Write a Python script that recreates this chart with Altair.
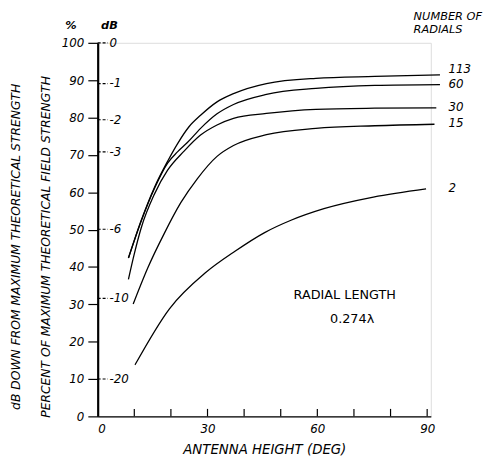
import altair as alt
import pandas as pd

# ---- data ----
series_names = ["113", "60", "30", "15", "2"]
x_113 = [8.4, 11.9, 15.5, 19.1, 22.0, 25.0, 28.1, 32.6, 37.1, 46.1, 59.6, 75.7, 93.5]
y_113 = [42.4, 52.5, 61.3, 68.3, 73.3, 77.6, 80.6, 84.2, 86.4, 89.1, 90.5, 91.0, 91.4]
x_60 = [8.4, 11.9, 15.5, 19.1, 21.8, 24.5, 28.1, 32.6, 37.1, 46.1, 59.6, 75.7, 93.5]
y_60 = [42.4, 52.3, 61.0, 67.8, 70.8, 73.3, 77.1, 81.0, 83.5, 86.2, 87.8, 88.6, 88.8]
x_30 = [8.4, 10.0, 11.9, 15.5, 19.1, 23.6, 28.1, 32.6, 37.1, 46.1, 59.6, 75.7, 92.5]
y_30 = [36.7, 43.5, 50.5, 59.5, 65.9, 71.0, 75.3, 78.0, 79.8, 81.1, 82.2, 82.5, 82.6]
x_15 = [9.7, 13.7, 18.2, 22.7, 27.2, 32.6, 37.1, 46.1, 59.6, 75.7, 92.0]
y_15 = [30.1, 39.8, 49.0, 57.2, 63.6, 69.6, 72.5, 75.4, 77.1, 77.8, 78.2]
x_2 = [10.2, 19.6, 29.5, 37.5, 45.6, 52.8, 61.8, 75.3, 89.7]
y_2 = [13.8, 28.8, 38.5, 44.2, 49.2, 52.5, 55.6, 58.7, 60.9]

label_y = [92.9, 88.9, 82.8, 78.4, 61.2]

db_pct = [100, 89.1, 79.4, 70.8, 50.1, 31.6, 10]
db_text = ["0", "-1", "-2", "-3", "-6", "-10", "-20"]

x_minor_ticks = [10, 20, 30, 40, 50, 60, 70, 80, 90]
x_tick_labels = [0, 30, 60, 90]
y_tick_values = [0, 10, 20, 30, 40, 50, 60, 70, 80, 90, 100]

# ---- build tables ----
rows = []
for name, xs_, ys_ in [("113", x_113, y_113), ("60", x_60, y_60), ("30", x_30, y_30),
                       ("15", x_15, y_15), ("2", x_2, y_2)]:
    for i, (a, b) in enumerate(zip(xs_, ys_)):
        rows.append({"series": name, "x": a, "y": b, "i": i})
lines_df = pd.DataFrame(rows)
labels_df = pd.DataFrame({"series": series_names, "x": [95.8] * 5, "y": label_y})
db_df = pd.DataFrame({"y": db_pct, "x": [0] * 7, "x2": [2.8] * 7, "xt": [3.2] * 7, "t": db_text})
xt_df = pd.DataFrame({"x": x_minor_ticks, "y": [0] * 9, "y2": [2.0] * 9})
ann_df = pd.DataFrame({
    "x": [67.5, 69.5, 86.3, 86.3, -7.3, 3.2],
    "y": [32.5, 26.1, 106.9, 103.4, 104.5, 104.5],
    "t": ["RADIAL LENGTH", "0.274λ", "NUMBER OF", "RADIALS", "%", "dB"],
    "style": ["up", "up", "it", "it", "it", "it"],
    "align": ["center", "center", "left", "left", "center", "center"],
})

FONT = "DejaVu Sans"

xaxis = alt.Axis(values=x_tick_labels, ticks=False, grid=False, labelPadding=7,
                 labelFont=FONT, labelFontStyle="italic", labelFontSize=12,
                 labelColor="black", domainColor="black", domainWidth=1.2,
                 title="ANTENNA HEIGHT (DEG)", titleFont=FONT, titleFontStyle="italic",
                 titleFontWeight="normal", titleFontSize=13.5, titlePadding=9,
                 titleColor="black")
yaxis = alt.Axis(values=y_tick_values, grid=False, tickSize=10, tickColor="black",
                 tickWidth=1.2, labelPadding=4, labelFont=FONT, labelFontStyle="italic",
                 labelFontSize=12, labelColor="black", domainColor="black", domainWidth=2.2,
                 title=["dB DOWN FROM MAXIMUM THEORETICAL STRENGTH",
                        "PERCENT OF MAXIMUM THEORETICAL FIELD STRENGTH"],
                 titleFont=FONT, titleFontStyle="italic", titleFontWeight="normal",
                 titleFontSize=12.5, titleColor="black", titleAngle=270,
                 titleAlign="center", titleBaseline="middle", titleLineHeight=30,
                 titleX=-83, titleY=206.5)

xs = alt.Scale(domain=[0, 91], nice=False, zero=False)
ys = alt.Scale(domain=[0, 100], nice=False)
X = alt.X("x:Q", scale=xs, axis=xaxis)
Y = alt.Y("y:Q", scale=ys, axis=yaxis)

lines = alt.Chart(lines_df).mark_line(color="black", strokeWidth=1.3,
                                      interpolate="monotone").encode(
    x=X, y=Y, detail="series:N", order="i:Q")

labels = alt.Chart(labels_df).mark_text(align="left", baseline="middle", font=FONT,
                                        fontStyle="italic", fontSize=12,
                                        color="black").encode(x=X, y=Y, text="series:N")

db_rules = alt.Chart(db_df).mark_rule(color="black", strokeWidth=1.2,
                                      strokeDash=[3, 2]).encode(
    x=X, x2=alt.X2("x2:Q"), y=Y)
db_labels = alt.Chart(db_df).mark_text(align="left", baseline="middle", font=FONT,
                                       fontStyle="italic", fontSize=12,
                                       color="black").encode(
    x=alt.X("xt:Q", scale=xs, axis=xaxis), y=Y, text="t:N")

x_ticks = alt.Chart(xt_df).mark_rule(color="black", strokeWidth=1.2).encode(
    x=X, y=Y, y2=alt.Y2("y2:Q"))

ann_up = alt.Chart(ann_df[ann_df["style"] == "up"]).mark_text(
    align="center", baseline="middle", font=FONT, fontSize=13, color="black").encode(
    x=X, y=Y, text="t:N")
ann_it = alt.Chart(ann_df[(ann_df["style"] == "it") & (ann_df["align"] == "left")]).mark_text(
    align="left", baseline="middle", font=FONT, fontStyle="italic", fontSize=11.5,
    color="black").encode(x=X, y=Y, text="t:N")
ann_hd = alt.Chart(ann_df[(ann_df["style"] == "it") & (ann_df["align"] == "center")]).mark_text(
    align="center", baseline="middle", font=FONT, fontStyle="italic", fontSize=11.5,
    fontWeight="bold", color="black").encode(x=X, y=Y, text="t:N")

chart = alt.layer(lines, labels, db_rules, db_labels, x_ticks, ann_up, ann_it, ann_hd).properties(
    width=338, height=379,
    autosize=alt.AutoSizeParams(type="none"),
    padding={"left": 91, "top": 32, "right": 57, "bottom": 46},
).configure_view(stroke=None).configure(background="white")

chart.save("out.html", embed_options={"renderer": "svg", "actions": False})
